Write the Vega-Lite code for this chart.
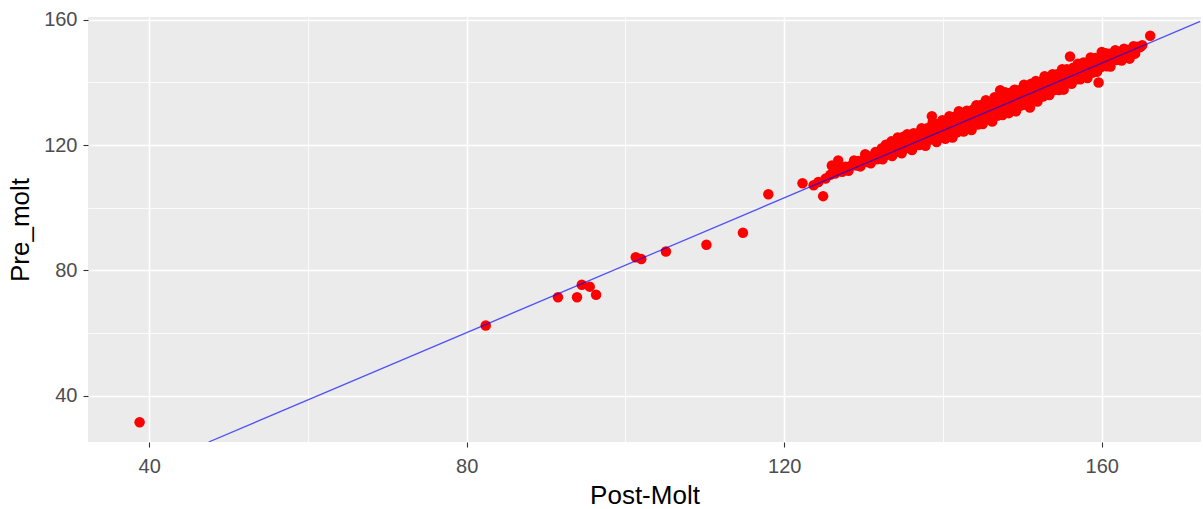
{
  "$schema": "https://vega.github.io/schema/vega-lite/v6.json",
  "width": 1113,
  "height": 425,
  "autosize": {"type": "none"},
  "padding": {"left": 88, "top": 17, "right": 2, "bottom": 67},
  "background": "white",
  "config": {
    "view": {"fill": "#EBEBEB", "stroke": null},
    "axis": {
      "domain": false,
      "labelFont": "Liberation Sans",
      "labelFontSize": 20,
      "labelColor": "#4D4D4D",
      "titleFont": "Liberation Sans",
      "titleFontSize": 26,
      "titleFontWeight": "normal",
      "titleColor": "#000000",
      "tickColor": "#333333",
      "tickSize": 5,
      "tickWidth": 1.1,
      "gridColor": "#FFFFFF"
    }
  },
  "datasets": {
    "pts": [
      {"post": 38.8, "pre": 31.5},
      {"post": 82.4, "pre": 62.4},
      {"post": 91.5, "pre": 71.4},
      {"post": 93.9, "pre": 71.4},
      {"post": 94.5, "pre": 75.4},
      {"post": 95.5, "pre": 74.8},
      {"post": 96.3, "pre": 72.2},
      {"post": 101.3, "pre": 84.2},
      {"post": 102.0, "pre": 83.6},
      {"post": 105.1, "pre": 86.0},
      {"post": 110.2, "pre": 88.2},
      {"post": 114.8, "pre": 92.0},
      {"post": 118.0, "pre": 104.3},
      {"post": 122.3, "pre": 107.8},
      {"post": 123.7, "pre": 107.2},
      {"post": 124.9, "pre": 103.7},
      {"post": 124.3, "pre": 108.2},
      {"post": 125.2, "pre": 109.3},
      {"post": 125.8, "pre": 110.5},
      {"post": 126.0, "pre": 113.5},
      {"post": 126.8, "pre": 115.1},
      {"post": 126.4, "pre": 110.9},
      {"post": 127.0, "pre": 113.0},
      {"post": 127.3, "pre": 111.5},
      {"post": 127.7, "pre": 113.1},
      {"post": 128.1, "pre": 111.8},
      {"post": 128.4, "pre": 113.4},
      {"post": 128.8, "pre": 115.1},
      {"post": 129.1, "pre": 113.5},
      {"post": 129.3, "pre": 114.9},
      {"post": 129.6, "pre": 113.2},
      {"post": 129.9, "pre": 115.1},
      {"post": 130.2, "pre": 117.1},
      {"post": 130.4, "pre": 114.6},
      {"post": 130.7, "pre": 116.4},
      {"post": 130.9, "pre": 114.2},
      {"post": 131.2, "pre": 116.2},
      {"post": 131.5, "pre": 117.8},
      {"post": 131.7, "pre": 115.5},
      {"post": 131.9, "pre": 117.5},
      {"post": 132.1, "pre": 116.9},
      {"post": 132.3, "pre": 119.0},
      {"post": 132.4, "pre": 115.5},
      {"post": 132.6, "pre": 118.0},
      {"post": 132.8, "pre": 120.1},
      {"post": 133.0, "pre": 117.0},
      {"post": 133.1, "pre": 119.2},
      {"post": 133.3, "pre": 118.1},
      {"post": 133.5, "pre": 121.2},
      {"post": 133.6, "pre": 116.5},
      {"post": 133.8, "pre": 119.1},
      {"post": 134.0, "pre": 120.9},
      {"post": 134.1, "pre": 117.9},
      {"post": 134.3, "pre": 122.4},
      {"post": 134.4, "pre": 119.4},
      {"post": 134.6, "pre": 121.0},
      {"post": 134.8, "pre": 117.4},
      {"post": 135.0, "pre": 122.7},
      {"post": 135.1, "pre": 119.6},
      {"post": 135.3, "pre": 121.2},
      {"post": 135.5, "pre": 123.5},
      {"post": 135.6, "pre": 119.1},
      {"post": 135.8, "pre": 122.5},
      {"post": 136.0, "pre": 120.9},
      {"post": 136.1, "pre": 118.4},
      {"post": 136.3, "pre": 123.8},
      {"post": 136.5, "pre": 122.3},
      {"post": 136.6, "pre": 120.5},
      {"post": 136.8, "pre": 123.7},
      {"post": 137.0, "pre": 120.0},
      {"post": 137.1, "pre": 122.4},
      {"post": 137.3, "pre": 125.4},
      {"post": 137.5, "pre": 121.9},
      {"post": 137.6, "pre": 124.1},
      {"post": 137.8, "pre": 119.8},
      {"post": 138.0, "pre": 125.4},
      {"post": 138.1, "pre": 123.0},
      {"post": 138.3, "pre": 121.7},
      {"post": 138.5, "pre": 124.7},
      {"post": 138.6, "pre": 129.2},
      {"post": 138.7, "pre": 127.3},
      {"post": 138.9, "pre": 122.9},
      {"post": 139.0, "pre": 124.8},
      {"post": 139.2, "pre": 121.0},
      {"post": 139.4, "pre": 126.7},
      {"post": 139.5, "pre": 124.4},
      {"post": 139.7, "pre": 122.7},
      {"post": 139.9, "pre": 127.9},
      {"post": 140.0, "pre": 126.2},
      {"post": 140.2, "pre": 124.1},
      {"post": 140.3, "pre": 122.0},
      {"post": 140.5, "pre": 127.4},
      {"post": 140.6, "pre": 125.1},
      {"post": 140.8, "pre": 129.2},
      {"post": 140.9, "pre": 123.7},
      {"post": 141.1, "pre": 126.8},
      {"post": 141.2, "pre": 122.4},
      {"post": 141.4, "pre": 129.0},
      {"post": 141.5, "pre": 125.1},
      {"post": 141.7, "pre": 128.1},
      {"post": 141.8, "pre": 124.1},
      {"post": 142.0, "pre": 130.8},
      {"post": 142.1, "pre": 127.5},
      {"post": 142.3, "pre": 125.3},
      {"post": 142.4, "pre": 129.6},
      {"post": 142.6, "pre": 124.3},
      {"post": 142.7, "pre": 128.6},
      {"post": 142.9, "pre": 127.3},
      {"post": 143.0, "pre": 131.0},
      {"post": 143.2, "pre": 125.8},
      {"post": 143.3, "pre": 130.0},
      {"post": 143.5, "pre": 128.3},
      {"post": 143.6, "pre": 124.8},
      {"post": 143.8, "pre": 131.4},
      {"post": 143.9, "pre": 129.4},
      {"post": 144.1, "pre": 127.6},
      {"post": 144.2, "pre": 132.7},
      {"post": 144.4, "pre": 126.6},
      {"post": 144.5, "pre": 130.8},
      {"post": 144.7, "pre": 129.0},
      {"post": 144.8, "pre": 132.8},
      {"post": 145.0, "pre": 126.7},
      {"post": 145.1, "pre": 130.8},
      {"post": 145.3, "pre": 128.7},
      {"post": 145.4, "pre": 134.3},
      {"post": 145.6, "pre": 131.8},
      {"post": 145.7, "pre": 128.2},
      {"post": 145.9, "pre": 133.3},
      {"post": 146.0, "pre": 130.8},
      {"post": 146.2, "pre": 127.5},
      {"post": 146.3, "pre": 133.1},
      {"post": 146.5, "pre": 135.3},
      {"post": 146.6, "pre": 130.8},
      {"post": 146.8, "pre": 132.4},
      {"post": 146.9, "pre": 129.4},
      {"post": 147.1, "pre": 134.9},
      {"post": 147.2, "pre": 137.5},
      {"post": 147.4, "pre": 132.0},
      {"post": 147.5, "pre": 129.6},
      {"post": 147.7, "pre": 134.9},
      {"post": 147.8, "pre": 136.9},
      {"post": 148.0, "pre": 131.9},
      {"post": 148.1, "pre": 134.2},
      {"post": 148.3, "pre": 130.2},
      {"post": 148.4, "pre": 136.6},
      {"post": 148.6, "pre": 133.7},
      {"post": 148.7, "pre": 135.4},
      {"post": 148.9, "pre": 132.0},
      {"post": 149.0, "pre": 137.7},
      {"post": 149.2, "pre": 130.8},
      {"post": 149.3, "pre": 135.2},
      {"post": 149.5, "pre": 133.8},
      {"post": 149.6, "pre": 137.5},
      {"post": 149.8, "pre": 132.6},
      {"post": 149.9, "pre": 136.4},
      {"post": 150.1, "pre": 135.0},
      {"post": 150.2, "pre": 139.3},
      {"post": 150.4, "pre": 132.9},
      {"post": 150.5, "pre": 137.8},
      {"post": 150.7, "pre": 134.6},
      {"post": 150.95, "pre": 132.0},
      {"post": 151.0, "pre": 136.8},
      {"post": 151.1, "pre": 139.6},
      {"post": 151.3, "pre": 134.4},
      {"post": 151.4, "pre": 138.4},
      {"post": 151.6, "pre": 136.3},
      {"post": 151.7, "pre": 140.5},
      {"post": 151.9, "pre": 133.9},
      {"post": 152.0, "pre": 138.5},
      {"post": 152.2, "pre": 136.5},
      {"post": 152.3, "pre": 140.2},
      {"post": 152.5, "pre": 138.1},
      {"post": 152.6, "pre": 135.5},
      {"post": 152.8, "pre": 142.0},
      {"post": 152.9, "pre": 139.7},
      {"post": 153.1, "pre": 136.9},
      {"post": 153.2, "pre": 141.6},
      {"post": 153.4, "pre": 136.0},
      {"post": 153.5, "pre": 139.8},
      {"post": 153.7, "pre": 138.7},
      {"post": 153.8, "pre": 142.6},
      {"post": 154.0, "pre": 137.6},
      {"post": 154.1, "pre": 141.4},
      {"post": 154.3, "pre": 139.7},
      {"post": 154.4, "pre": 142.6},
      {"post": 154.6, "pre": 137.6},
      {"post": 154.7, "pre": 141.5},
      {"post": 154.9, "pre": 139.5},
      {"post": 155.0, "pre": 144.2},
      {"post": 155.2, "pre": 137.7},
      {"post": 155.3, "pre": 143.0},
      {"post": 155.5, "pre": 141.2},
      {"post": 155.6, "pre": 144.2},
      {"post": 155.8, "pre": 139.8},
      {"post": 156.0, "pre": 148.3},
      {"post": 156.1, "pre": 142.7},
      {"post": 156.2, "pre": 139.6},
      {"post": 156.4, "pre": 144.7},
      {"post": 156.5, "pre": 141.8},
      {"post": 156.7, "pre": 144.1},
      {"post": 156.8, "pre": 141.0},
      {"post": 157.0, "pre": 146.0},
      {"post": 157.1, "pre": 143.3},
      {"post": 157.3, "pre": 141.0},
      {"post": 157.4, "pre": 145.4},
      {"post": 157.6, "pre": 142.8},
      {"post": 157.7, "pre": 146.4},
      {"post": 157.9, "pre": 142.5},
      {"post": 158.0, "pre": 144.9},
      {"post": 158.2, "pre": 141.4},
      {"post": 158.3, "pre": 146.4},
      {"post": 158.5, "pre": 144.4},
      {"post": 158.6, "pre": 148.0},
      {"post": 158.8, "pre": 143.1},
      {"post": 158.9, "pre": 146.2},
      {"post": 159.1, "pre": 144.7},
      {"post": 159.2, "pre": 147.8},
      {"post": 159.4, "pre": 143.4},
      {"post": 159.6, "pre": 140.0},
      {"post": 159.7, "pre": 146.4},
      {"post": 159.8, "pre": 144.8},
      {"post": 160.0, "pre": 149.7},
      {"post": 160.1, "pre": 148.1},
      {"post": 160.3, "pre": 145.8},
      {"post": 160.5, "pre": 149.3},
      {"post": 160.6, "pre": 145.2},
      {"post": 160.8, "pre": 147.5},
      {"post": 161.0, "pre": 149.2},
      {"post": 161.1, "pre": 145.1},
      {"post": 161.3, "pre": 148.6},
      {"post": 161.5, "pre": 147.5},
      {"post": 161.7, "pre": 150.3},
      {"post": 161.9, "pre": 147.2},
      {"post": 162.1, "pre": 149.7},
      {"post": 162.3, "pre": 148.5},
      {"post": 162.5, "pre": 147.0},
      {"post": 162.8, "pre": 150.8},
      {"post": 163.0, "pre": 148.1},
      {"post": 163.3, "pre": 150.4},
      {"post": 163.5, "pre": 147.6},
      {"post": 163.8, "pre": 149.6},
      {"post": 164.0, "pre": 151.6},
      {"post": 164.2, "pre": 149.2},
      {"post": 164.5, "pre": 151.4},
      {"post": 164.8, "pre": 151.2},
      {"post": 165.1, "pre": 151.9},
      {"post": 166.1, "pre": 154.9}
    ],
    "fit": [
      {"post": 47.5, "pre": 25.2},
      {"post": 172.4, "pre": 159.5}
    ]
  },
  "encoding": {
    "x": {
      "field": "post",
      "type": "quantitative",
      "title": "Post-Molt",
      "scale": {"domain": [32.3, 172.5], "nice": false, "zero": false},
      "axis": {
        "values": [40, 60, 80, 100, 120, 140, 160],
        "labelExpr": "datum.value % 40 === 0 ? datum.label : ''",
        "tickOpacity": {"condition": {"test": "datum.value % 40 === 0", "value": 1}, "value": 0},
        "gridWidth": {"condition": {"test": "datum.value % 40 === 0", "value": 1.6}, "value": 0.8},
        "labelPadding": 9,
        "labelBaseline": "top",
        "titleBaseline": "alphabetic",
        "titleAnchor": "middle",
        "titleX": 556.5,
        "titleY": 61
      }
    },
    "y": {
      "field": "pre",
      "type": "quantitative",
      "title": "Pre_molt",
      "scale": {"domain": [25.2, 160.9], "nice": false, "zero": false},
      "axis": {
        "values": [40, 60, 80, 100, 120, 140, 160],
        "labelExpr": "datum.value % 40 === 0 ? datum.label : ''",
        "tickOpacity": {"condition": {"test": "datum.value % 40 === 0", "value": 1}, "value": 0},
        "gridWidth": {"condition": {"test": "datum.value % 40 === 0", "value": 1.6}, "value": 0.8},
        "labelPadding": 6,
        "titleAngle": 270,
        "titleBaseline": "alphabetic",
        "titleX": -60,
        "titleY": 212.5
      }
    }
  },
  "layer": [
    {
      "data": {"name": "pts"},
      "mark": {"type": "circle", "color": "#FF0000", "opacity": 1, "size": 110}
    },
    {
      "data": {"name": "fit"},
      "mark": {"type": "line", "color": "#0000FF", "opacity": 0.65, "strokeWidth": 1.3, "clip": true}
    }
  ]
}
